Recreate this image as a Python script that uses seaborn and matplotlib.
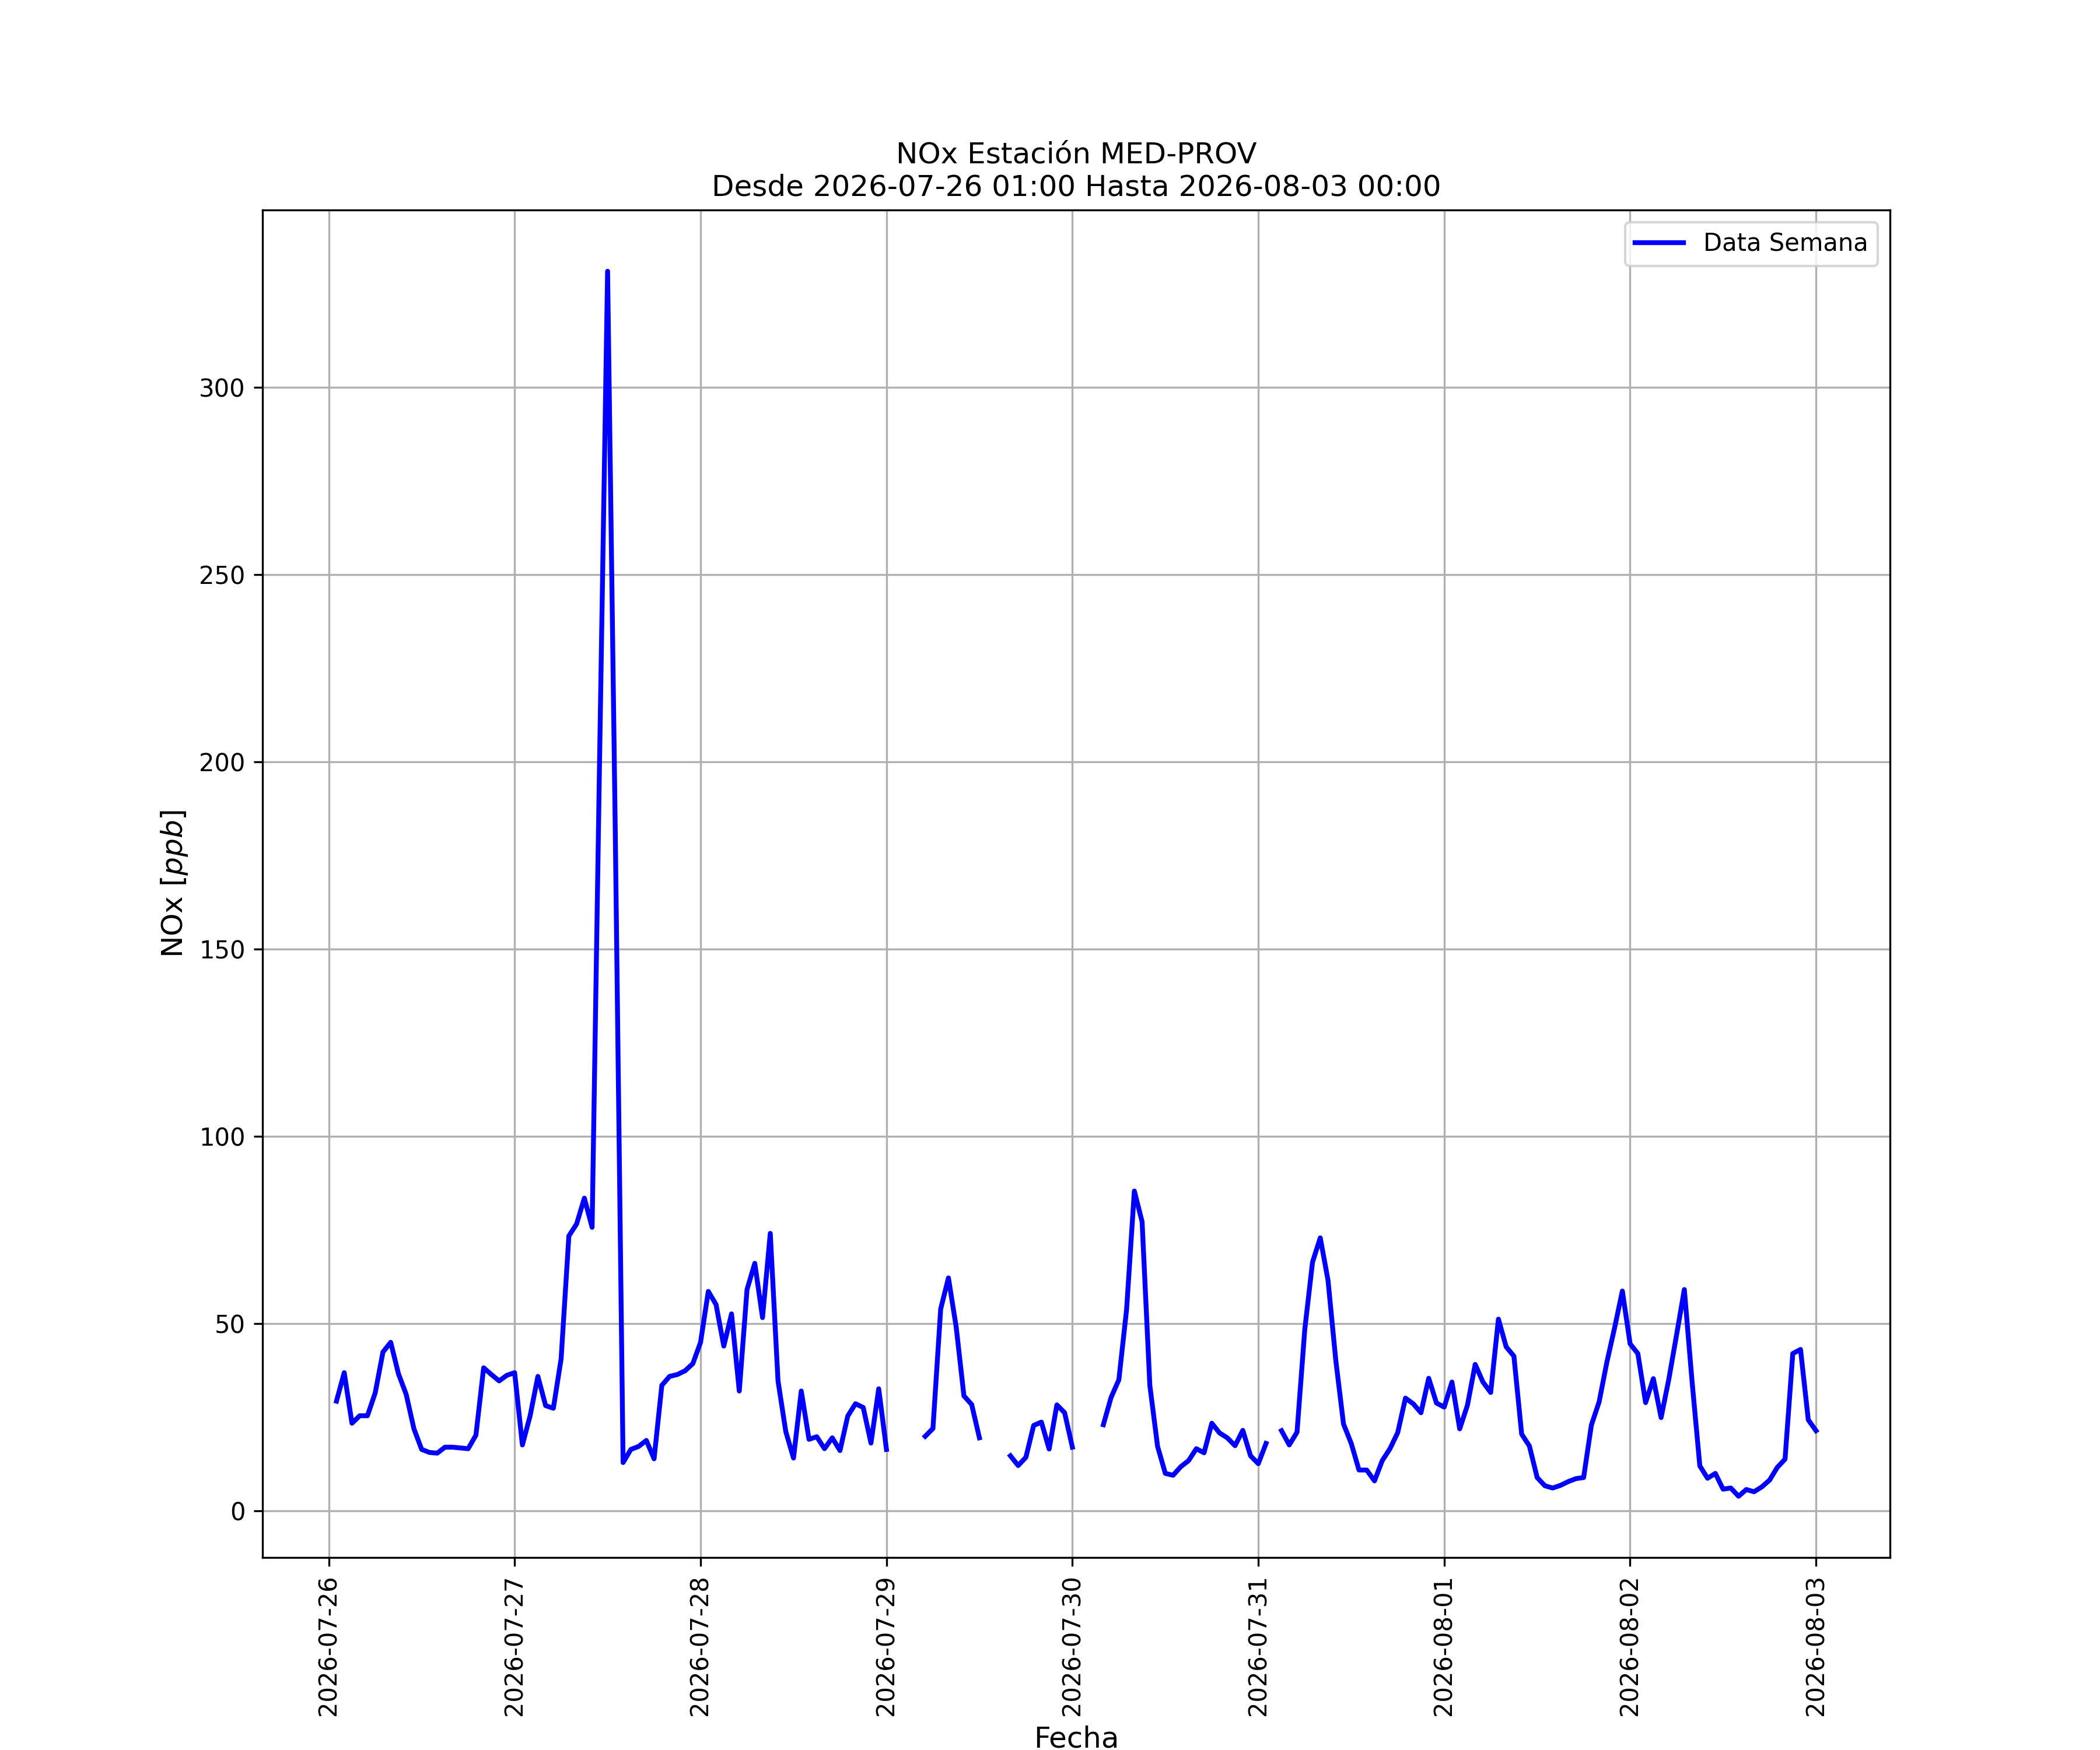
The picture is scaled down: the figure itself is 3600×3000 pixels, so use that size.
import numpy as np
import pandas as pd
import matplotlib
matplotlib.use("Agg")
import matplotlib.pyplot as plt
import matplotlib.dates as mdates
from matplotlib.lines import Line2D
import seaborn as sns

ESTACION = "MED-PROV"
INICIO = "2026-07-26 01:00"
FIN = "2026-08-03 00:00"

# Horas con valor NaN = sin dato (el trazo se corta)
nan = np.nan
nox_ppb = [
    29.3, 36.9, 23.4, 25.4, 25.4, 31.5, 42.4, 45.0, 36.6, 31.1, 21.9, 16.4,
    15.6, 15.4, 17.0, 17.0, 16.8, 16.6, 20.2, 38.2, 36.4, 34.7, 36.2, 36.9,
    17.6, 25.4, 35.9, 28.1, 27.4, 40.6, 73.4, 76.6, 83.5, 75.7, 205.0, 331.0,
    180.0, 12.9, 16.4, 17.2, 18.8, 13.9, 33.5, 35.9, 36.4, 37.4, 39.3, 45.0,
    58.6, 55.1, 44.0, 52.6, 32.0, 59.1, 66.1, 51.6, 74.1, 34.7, 21.2, 14.1,
    32.0, 19.1, 19.8, 16.6, 19.5, 16.1, 25.3, 28.6, 27.6, 18.1, 32.6, 16.4,
    nan, nan, nan, nan, 19.9, 22.0, 53.9, 62.2, 49.1, 30.7, 28.4, 19.5,
    nan, nan, nan, 14.7, 12.1, 14.3, 22.8, 23.7, 16.5, 28.3, 26.2, 17.0,
    nan, nan, nan, 23.0, 30.3, 35.0, 53.8, 85.4, 77.2, 33.5, 17.2, 10.0,
    9.5, 11.8, 13.4, 16.6, 15.5, 23.4, 20.8, 19.5, 17.4, 21.5, 14.7, 12.6,
    18.0, nan, 21.4, 17.6, 21.0, 48.4, 66.4, 72.9, 61.6, 40.3, 23.2, 18.0,
    10.9, 10.9, 8.0, 13.4, 16.6, 20.9, 30.1, 28.6, 26.2, 35.4, 28.8, 27.7,
    34.4, 21.9, 28.2, 39.1, 34.4, 31.6, 51.2, 43.8, 41.3, 20.5, 17.3, 8.9,
    6.7, 6.1, 6.8, 7.8, 8.6, 8.9, 22.9, 29.1, 39.7, 48.9, 58.7, 44.6,
    42.0, 28.9, 35.3, 24.9, 35.2, 47.0, 59.1, 34.5, 12.0, 8.7, 10.0, 5.8,
    6.1, 3.9, 5.7, 5.1, 6.4, 8.2, 11.6, 13.8, 42.0, 43.1, 24.3, 21.4,
]

fechas = pd.date_range(INICIO, FIN, freq="h")

df = pd.DataFrame({"fecha": fechas, "nox": nox_ppb})
# cada tramo continuo es una "unidad" para que seaborn no una los huecos
df["tramo"] = df["nox"].isna().cumsum()
df = df.dropna(subset=["nox"])

fig, ax = plt.subplots(figsize=(12, 10), dpi=300)
sns.lineplot(data=df, x="fecha", y="nox", units="tramo", estimator=None,
             color="blue", linewidth=2, ax=ax)

ax.set_title(f"NOx Estación {ESTACION}\nDesde {INICIO} Hasta {FIN}",
             fontsize=12)
ax.set_xlabel("Fecha", fontsize=12)
ax.set_ylabel("NOx $[ppb]$", fontsize=12)
ax.xaxis.set_major_locator(mdates.DayLocator())
ax.xaxis.set_major_formatter(mdates.DateFormatter("%Y-%m-%d"))
plt.setp(ax.get_xticklabels(), rotation=90)
ax.grid(True)
ax.legend(handles=[Line2D([], [], color="blue", linewidth=2)],
          labels=["Data Semana"], loc="upper right")

fig.savefig("out.png", dpi=300)
